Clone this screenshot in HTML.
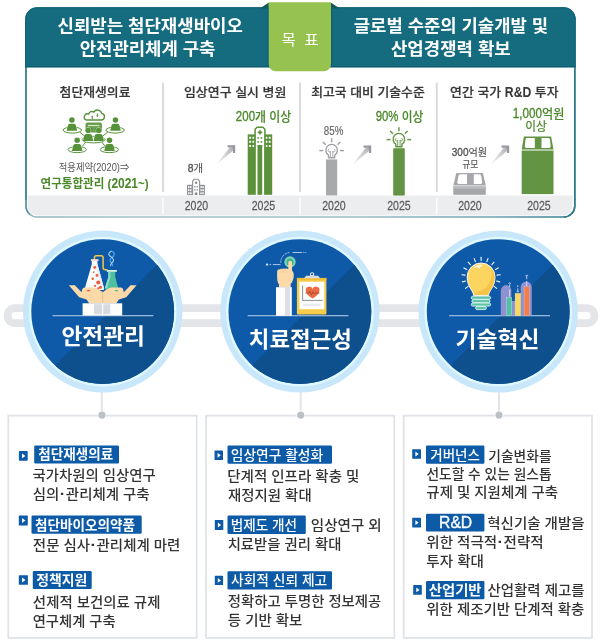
<!DOCTYPE html>
<html lang="ko"><head><meta charset="utf-8"><title>첨단재생의료 목표</title>
<style>html,body{margin:0;padding:0;background:#fff}body{width:600px;height:642px;overflow:hidden}svg{display:block}text{font-family:'Liberation Sans','Noto Sans CJK KR',sans-serif;white-space:pre}</style>
</head><body>
<svg width="600" height="642" viewBox="0 0 600 642" role="img" aria-label="첨단재생의료 목표 및 추진전략">
<defs>
<linearGradient id="arr" gradientUnits="userSpaceOnUse" x1="0" y1="20" x2="18" y2="2"><stop offset="0" stop-color="#d0d0d4" stop-opacity="0"/><stop offset="0.35" stop-color="#cfcfd3" stop-opacity="0.6"/><stop offset="1" stop-color="#adaeb3"/></linearGradient>
<clipPath id="boxclip"><rect x="25.3" y="7.3" width="550.2" height="210.2" rx="11.5" ry="11.5"/></clipPath>
<clipPath id="c0"><ellipse cx="102.7" cy="311.6" rx="71.4" ry="72.4"/></clipPath>
<clipPath id="c1"><ellipse cx="299.9" cy="311.6" rx="71.4" ry="72.4"/></clipPath>
<clipPath id="c2"><ellipse cx="498.2" cy="311.6" rx="71.4" ry="72.4"/></clipPath>
<linearGradient id="bb" gradientUnits="userSpaceOnUse" x1="26" y1="0" x2="575" y2="0"><stop offset="0" stop-color="#8fb4bf"/><stop offset="0.2" stop-color="#a3c1cb"/><stop offset="0.6" stop-color="#9bbcc6"/><stop offset="0.85" stop-color="#6ea2b0"/><stop offset="1" stop-color="#2f7a8c"/></linearGradient>
</defs>
<g id="goal">
<rect x="26" y="8" width="548.8" height="209" rx="11" ry="11" fill="#fff" stroke="url(#bb)" stroke-width="1.5"/>
<path d="M26 200 V19 a11 11 0 0 1 11 -11 H563.8 a11 11 0 0 1 11 11 V200" fill="none" stroke="#2f7a8c" stroke-width="1.5"/>
<path d="M26 199 V206 a11 11 0 0 0 4 8.6" fill="none" stroke="#4f8e9e" stroke-width="1.3"/>
<path d="M574.8 199 V206 a11 11 0 0 1 -11 11" fill="none" stroke="#2f7a8c" stroke-width="1.5"/>
<path d="M25.6 66.9 V19 a11.2 11.2 0 0 1 11.2 -11.2 H564 a11.2 11.2 0 0 1 11.2 11.2 V66.9 Z" fill="#156c7f" stroke="#0f6176" stroke-width="0.9"/>
<rect x="25.2" y="66" width="550.4" height="1.3" fill="#0d5d72"/>
<path d="M27.6 195.4 H572.6 V206 a9.3 9.3 0 0 1 -9.3 9.4 H36.9 a9.3 9.3 0 0 1 -9.3 -9.4 Z" fill="#ecedef"/>
<rect x="162.1" y="82.6" width="1.8" height="109.4" fill="#d8d8db"/>
<rect x="162.2" y="197.8" width="1.5" height="16.6" fill="#fdfdfd"/>
<rect x="299.1" y="82.6" width="1.8" height="109.4" fill="#d8d8db"/>
<rect x="299.2" y="197.8" width="1.5" height="16.6" fill="#fdfdfd"/>
<rect x="435.9" y="82.6" width="1.8" height="109.4" fill="#d8d8db"/>
<rect x="436.0" y="197.8" width="1.5" height="16.6" fill="#fdfdfd"/>
<path d="M261.3 7.6 L268.9 2.4 L268.9 8.6 L261.3 8.6 Z" fill="#15585c"/>
<path d="M338.4 7.6 L330.8 2.4 L330.8 8.6 L338.4 8.6 Z" fill="#15585c"/>
<rect x="267.4" y="8.4" width="1.6" height="58.4" fill="#0f5f74"/>
<rect x="330.7" y="8.4" width="1.6" height="58.4" fill="#0f5f74"/>
<path d="M268.7 2.3 H331 V64.3 a7 7 0 0 1 -7 7 H275.7 a7 7 0 0 1 -7 -7 Z" fill="#96c24f"/>
<text transform="translate(281.52 44.95) scale(1.0252 1)" font-size="15.2" font-weight="400" fill="#fff">목</text>
<text transform="translate(304.22 45.19) scale(1.0270 1)" font-size="15.2" font-weight="400" fill="#fff">표</text>
<text transform="translate(57.49 32.26) scale(1.0252 1)" font-size="17.4" font-weight="700" fill="#fff">신뢰받는 첨단재생바이오</text>
<text transform="translate(79.70 54.96) scale(1.0223 1)" font-size="17.4" font-weight="700" fill="#fff">안전관리체계 구축</text>
<text transform="translate(353.79 32.21) scale(1.0197 1)" font-size="17.4" font-weight="700" fill="#fff">글로벌 수준의 기술개발 및</text>
<text transform="translate(390.97 54.96) scale(1.0249 1)" font-size="17.4" font-weight="700" fill="#fff">산업경쟁력 확보</text>
<text transform="translate(59.62 97.48) scale(1.0284 1)" font-size="12.5" font-weight="500" fill="#383838" stroke="#383838" stroke-width="0.22">첨단재생의료</text>
<text transform="translate(183.96 97.48) scale(1.0357 1)" font-size="12.5" font-weight="500" fill="#383838" stroke="#383838" stroke-width="0.22">임상연구 실시 병원</text>
<text transform="translate(311.16 97.48) scale(1.0288 1)" font-size="12.5" font-weight="500" fill="#383838" stroke="#383838" stroke-width="0.22">최고국 대비 기술수준</text>
<g>
<text transform="translate(450.12 97.48) scale(1.0341 1)" font-size="12.50" font-weight="500" fill="#383838" stroke="#383838" stroke-width="0.22">연간 국가 </text>
<text transform="translate(504.87 97.48) scale(0.8686 1)" font-size="14.00" font-weight="700" fill="#383838" stroke="#383838" stroke-width="0.05">R&amp;D</text>
<text transform="translate(531.22 97.48) scale(1.0341 1)" font-size="12.50" font-weight="500" fill="#383838" stroke="#383838" stroke-width="0.22"> 투자</text>
</g>
<g>
<text transform="translate(58.69 170.75) scale(0.9350 1)" font-size="10.00" font-weight="400" fill="#555">적용제약(</text>
<text transform="translate(96.21 170.75) scale(0.8415 1)" font-size="11.00" font-weight="400" fill="#555">2020</text>
<text transform="translate(116.80 170.75) scale(0.9350 1)" font-size="10.00" font-weight="400" fill="#555">)⇒</text>
</g>
<g>
<text transform="translate(40.62 188.23) scale(0.9544 1)" font-size="12.10" font-weight="700" fill="#4a8829">연구통합관리 (</text>
<text transform="translate(111.42 188.23) scale(0.8589 1)" font-size="13.91" font-weight="700" fill="#4a8829">2021</text>
<text transform="translate(138.01 188.23) scale(0.9544 1)" font-size="12.10" font-weight="700" fill="#4a8829">~)</text>
</g>
<text transform="translate(184.67 209.58) scale(0.8143 1)" font-size="13" font-weight="400" fill="#5c5c5c" stroke="#5c5c5c" stroke-width="0.25">2020</text>
<text transform="translate(251.67 209.58) scale(0.8143 1)" font-size="13" font-weight="400" fill="#5c5c5c" stroke="#5c5c5c" stroke-width="0.25">2025</text>
<text transform="translate(322.17 209.58) scale(0.8143 1)" font-size="13" font-weight="400" fill="#5c5c5c" stroke="#5c5c5c" stroke-width="0.25">2020</text>
<text transform="translate(387.17 209.58) scale(0.8143 1)" font-size="13" font-weight="400" fill="#5c5c5c" stroke="#5c5c5c" stroke-width="0.25">2025</text>
<text transform="translate(458.17 209.58) scale(0.8143 1)" font-size="13" font-weight="400" fill="#5c5c5c" stroke="#5c5c5c" stroke-width="0.25">2020</text>
<text transform="translate(527.17 209.58) scale(0.8143 1)" font-size="13" font-weight="400" fill="#5c5c5c" stroke="#5c5c5c" stroke-width="0.25">2025</text>
<g>
<text transform="translate(235.82 120.92) scale(0.8165 1)" font-size="14.11" font-weight="500" fill="#4a8829" stroke="#4a8829" stroke-width="0.32">200</text>
<text transform="translate(255.05 120.92) scale(0.9495 1)" font-size="12.60" font-weight="500" fill="#4a8829" stroke="#4a8829" stroke-width="0.12">개 이상</text>
</g>
<g>
<text transform="translate(187.73 172.40) scale(0.9040 1)" font-size="11.44" font-weight="400" fill="#555" stroke="#555" stroke-width="0.35">8</text>
<text transform="translate(193.49 172.40) scale(1.0044 1)" font-size="10.40" font-weight="400" fill="#555" stroke="#555" stroke-width="0.15">개</text>
</g>
<g>
<text transform="translate(375.69 120.92) scale(0.8047 1)" font-size="14.11" font-weight="500" fill="#4a8829" stroke="#4a8829" stroke-width="0.32">90%</text>
<text transform="translate(398.42 120.92) scale(0.9357 1)" font-size="12.60" font-weight="500" fill="#4a8829" stroke="#4a8829" stroke-width="0.12"> 이상</text>
</g>
<text transform="translate(323.86 134.64) scale(0.8116 1)" font-size="12" font-weight="400" fill="#6a6a6a" stroke="#6a6a6a" stroke-width="0.2">85%</text>
<rect x="326" y="159.4" width="11.2" height="36" fill="#a8a9ab"/>
<rect x="393.7" y="148.7" width="10.6" height="46.4" fill="#629443" stroke="#4f8a2e" stroke-width="0.6"/>
<g>
<text transform="translate(512.72 118.32) scale(0.8308 1)" font-size="14.11" font-weight="500" fill="#4a8829" stroke="#4a8829" stroke-width="0.32">1,000</text>
<text transform="translate(542.06 118.32) scale(0.9660 1)" font-size="12.60" font-weight="500" fill="#4a8829" stroke="#4a8829" stroke-width="0.12">억원</text>
</g>
<text transform="translate(525.30 131.35) scale(0.9471 1)" font-size="12.4" font-weight="400" fill="#4a8829" stroke="#4a8829" stroke-width="0.2">이상</text>
<g>
<text transform="translate(451.80 156.20) scale(0.8752 1)" font-size="11.44" font-weight="400" fill="#555" stroke="#555" stroke-width="0.35">300</text>
<text transform="translate(468.50 156.20) scale(0.9724 1)" font-size="10.40" font-weight="400" fill="#555" stroke="#555" stroke-width="0.15">억원</text>
</g>
<text transform="translate(462.16 168.09) scale(0.8510 1)" font-size="10.4" font-weight="400" fill="#555" stroke="#555" stroke-width="0.15">규모</text>
<g id="ic-network" fill="#56923a" stroke="none">
<path d="M86.2 120 H101.2 a3.3 3.3 0 0 0 0.5 -6.55 a4.3 4.3 0 0 0 -7.9 -1.3 a3.1 3.1 0 0 0 -5 2.0 a3.0 3.0 0 0 0 -2.6 5.85 Z" fill="#fff" stroke="#56923a" stroke-width="1.35" stroke-linejoin="round"/>
<path d="M92.3 119.6 v-3 M97.4 113.4 v2.6" fill="none" stroke="#56923a" stroke-width="0.9"/>
<path d="M90.9 117.2 l1.4 -1.7 l1.4 1.7 Z M96 115.4 l1.4 1.7 l1.4 -1.7 Z" fill="#56923a"/>
<rect x="86" y="123" width="15.4" height="9" rx="1.2" fill="#6fa253" stroke="#56923a" stroke-width="0.9"/>
<rect x="88" y="125" width="11.4" height="1.1" fill="#d7e6cd"/>
<rect x="90.6" y="128.2" width="2.2" height="1.8" fill="#56923a"/><rect x="94.4" y="128.2" width="2.2" height="1.8" fill="#56923a"/>
<path d="M79.5 132 L85 136.4 M107.8 132 L102.4 136.4 M86 141.5 L82.3 146.3 M101.5 141.5 L105 146.3" stroke="#56923a" stroke-width="1" fill="none"/>
<ellipse cx="72.3" cy="130.1" rx="9.2" ry="3.0" fill="#fff" stroke="#56923a" stroke-width="1.0"/>
<ellipse cx="115.1" cy="130.1" rx="9.2" ry="3.0" fill="#fff" stroke="#56923a" stroke-width="1.0"/>
<ellipse cx="77.2" cy="149.6" rx="9.2" ry="3.0" fill="#fff" stroke="#56923a" stroke-width="1.0"/>
<ellipse cx="109.4" cy="149.6" rx="9.2" ry="3.0" fill="#fff" stroke="#56923a" stroke-width="1.0"/>
<ellipse cx="93.6" cy="139.6" rx="11.4" ry="3.3" fill="#fff" stroke="#56923a" stroke-width="1.0"/>
<circle cx="71.9" cy="120" r="2.75" stroke="#fff" stroke-width="0.7" paint-order="stroke"/>
<path d="M70.00 123.70 h3.80 c1.50 0 2.10 1.30 2.40 3.00 l1.00 4.10 h-10.60 l1.00 -4.10 c0.30 -1.70 0.90 -3.00 2.40 -3.00 Z" stroke="#fff" stroke-width="0.6" paint-order="stroke"/>
<circle cx="115.5" cy="120" r="2.75" stroke="#fff" stroke-width="0.7" paint-order="stroke"/>
<path d="M113.60 123.70 h3.80 c1.50 0 2.10 1.30 2.40 3.00 l1.00 4.10 h-10.60 l1.00 -4.10 c0.30 -1.70 0.90 -3.00 2.40 -3.00 Z" stroke="#fff" stroke-width="0.6" paint-order="stroke"/>
<circle cx="77.2" cy="140.2" r="2.75" stroke="#fff" stroke-width="0.7" paint-order="stroke"/>
<path d="M75.30 143.90 h3.80 c1.50 0 2.10 1.30 2.40 3.00 l1.00 4.10 h-10.60 l1.00 -4.10 c0.30 -1.70 0.90 -3.00 2.40 -3.00 Z" stroke="#fff" stroke-width="0.6" paint-order="stroke"/>
<circle cx="109.5" cy="140.2" r="2.75" stroke="#fff" stroke-width="0.7" paint-order="stroke"/>
<path d="M107.60 143.90 h3.80 c1.50 0 2.10 1.30 2.40 3.00 l1.00 4.10 h-10.60 l1.00 -4.10 c0.30 -1.70 0.90 -3.00 2.40 -3.00 Z" stroke="#fff" stroke-width="0.6" paint-order="stroke"/>
<circle cx="88.1" cy="130.4" r="2.69" stroke="#fff" stroke-width="0.7" paint-order="stroke"/>
<path d="M86.24 134.03 h3.72 c1.47 0 2.06 1.27 2.35 2.94 l0.98 4.02 h-10.39 l0.98 -4.02 c0.29 -1.67 0.88 -2.94 2.35 -2.94 Z" stroke="#fff" stroke-width="0.6" paint-order="stroke"/>
<circle cx="98.7" cy="130.4" r="2.69" stroke="#fff" stroke-width="0.7" paint-order="stroke"/>
<path d="M96.84 134.03 h3.72 c1.47 0 2.06 1.27 2.35 2.94 l0.98 4.02 h-10.39 l0.98 -4.02 c0.29 -1.67 0.88 -2.94 2.35 -2.94 Z" stroke="#fff" stroke-width="0.6" paint-order="stroke"/>
</g>
<g id="ic-bldg-small">
<rect x="187" y="184.8" width="5.6" height="10.3" fill="#909196"/>
<rect x="199.4" y="184.8" width="5.5" height="10.3" fill="#909196"/>
<rect x="188.00" y="186.20" width="1.45" height="1.85" fill="#fff"/>
<rect x="190.05" y="186.20" width="1.45" height="1.85" fill="#fff"/>
<rect x="188.00" y="189.25" width="1.45" height="1.85" fill="#fff"/>
<rect x="190.05" y="189.25" width="1.45" height="1.85" fill="#fff"/>
<rect x="188.00" y="192.30" width="1.45" height="1.85" fill="#fff"/>
<rect x="190.05" y="192.30" width="1.45" height="1.85" fill="#fff"/>
<rect x="200.30" y="186.20" width="1.45" height="1.85" fill="#fff"/>
<rect x="202.35" y="186.20" width="1.45" height="1.85" fill="#fff"/>
<rect x="200.30" y="189.25" width="1.45" height="1.85" fill="#fff"/>
<rect x="202.35" y="189.25" width="1.45" height="1.85" fill="#fff"/>
<rect x="200.30" y="192.30" width="1.45" height="1.85" fill="#fff"/>
<rect x="202.35" y="192.30" width="1.45" height="1.85" fill="#fff"/>
<path d="M192.6 195.1 V181.3 l1.6 -2 h3.8 l1.6 2 V195.1" fill="#fff" stroke="#909196" stroke-width="1.1"/>
<circle cx="196.1" cy="182.7" r="1.25" fill="#909196"/>
<rect x="194.3" y="186.00" width="1.3" height="1.5" fill="#909196"/><rect x="196.6" y="186.00" width="1.3" height="1.5" fill="#909196"/>
<rect x="194.3" y="189.10" width="1.3" height="1.5" fill="#909196"/><rect x="196.6" y="189.10" width="1.3" height="1.5" fill="#909196"/>
<path d="M194.7 195.1 v-1.4 a1.4 1.4 0 0 1 2.8 0 v1.4 Z" fill="#909196"/>
</g>
<g id="ic-bldg-big">
<rect x="247.7" y="134.4" width="8.2" height="60.4" fill="#5a9139"/>
<rect x="249.20" y="136.70" width="1.9" height="2.0" rx="0.3" fill="#fff"/>
<rect x="252.45" y="136.70" width="1.9" height="2.0" rx="0.3" fill="#fff"/>
<rect x="249.20" y="140.80" width="1.9" height="2.0" rx="0.3" fill="#fff"/>
<rect x="252.45" y="140.80" width="1.9" height="2.0" rx="0.3" fill="#fff"/>
<rect x="249.20" y="144.90" width="1.9" height="2.0" rx="0.3" fill="#fff"/>
<rect x="252.45" y="144.90" width="1.9" height="2.0" rx="0.3" fill="#fff"/>
<rect x="264.0" y="134.4" width="8.2" height="60.4" fill="#5a9139"/>
<rect x="265.50" y="136.70" width="1.9" height="2.0" rx="0.3" fill="#fff"/>
<rect x="268.75" y="136.70" width="1.9" height="2.0" rx="0.3" fill="#fff"/>
<rect x="265.50" y="140.80" width="1.9" height="2.0" rx="0.3" fill="#fff"/>
<rect x="268.75" y="140.80" width="1.9" height="2.0" rx="0.3" fill="#fff"/>
<rect x="265.50" y="144.90" width="1.9" height="2.0" rx="0.3" fill="#fff"/>
<rect x="268.75" y="144.90" width="1.9" height="2.0" rx="0.3" fill="#fff"/>
<path d="M255.1 146.5 V129.2 l2 -2 h5.8 l2 2 V146.5 Z" fill="#fff" stroke="#5a9139" stroke-width="1.5" stroke-linejoin="miter"/>
<rect x="255.9" y="145.6" width="8.2" height="49.2" fill="#fff"/>
<path d="M260 129.9 l0.9 1.5 l1.5 0.9 l-1.5 0.9 l-0.9 1.5 l-0.9 -1.5 l-1.5 -0.9 l1.5 -0.9 Z" fill="#5a9139" stroke="#5a9139" stroke-width="0.5"/>
<rect x="257.30" y="136.90" width="1.6" height="1.9" rx="0.6" fill="#5a9139"/>
<rect x="260.60" y="136.90" width="1.6" height="1.9" rx="0.6" fill="#5a9139"/>
<rect x="257.30" y="140.90" width="1.6" height="1.9" rx="0.6" fill="#5a9139"/>
<rect x="260.60" y="140.90" width="1.6" height="1.9" rx="0.6" fill="#5a9139"/>
<rect x="257.5" y="145" width="4.7" height="49.8" fill="#5a9139"/>
</g>
<g fill="none" stroke="#a0a1a4" stroke-width="1.4" stroke-linecap="butt">
<path d="M328.50 157.80 v-2.7 a5.8 5.8 0 1 1 6.2 0 v2.7 Z" fill="#fff" stroke-linejoin="round"/>
<path d="M330.40 157.60 v-6.6 M332.80 157.60 v-6.6" stroke-width="0.9"/>
<path d="M330.40 151.20 a1.3 1.3 0 1 1 -1.3 -1.9 M332.80 151.20 a1.3 1.3 0 1 0 1.3 -1.9" stroke-width="0.9"/>
<path d="M340.00 150.60 L343.90 150.60" stroke-width="1.45"/>
<path d="M337.54 144.66 L340.30 141.90" stroke-width="1.45"/>
<path d="M331.60 142.20 L331.60 138.30" stroke-width="1.45"/>
<path d="M325.66 144.66 L322.90 141.90" stroke-width="1.45"/>
<path d="M323.20 150.60 L319.30 150.60" stroke-width="1.45"/>
</g>
<g fill="none" stroke="#629443" stroke-width="1.4" stroke-linecap="butt">
<path d="M395.80 146.80 v-2.7 a5.8 5.8 0 1 1 6.2 0 v2.7 Z" fill="#fff" stroke-linejoin="round"/>
<path d="M397.70 146.60 v-6.6 M400.10 146.60 v-6.6" stroke-width="0.9"/>
<path d="M397.70 140.20 a1.3 1.3 0 1 1 -1.3 -1.9 M400.10 140.20 a1.3 1.3 0 1 0 1.3 -1.9" stroke-width="0.9"/>
<path d="M407.30 139.60 L411.20 139.60" stroke-width="1.45"/>
<path d="M404.84 133.66 L407.60 130.90" stroke-width="1.45"/>
<path d="M398.90 131.20 L398.90 127.30" stroke-width="1.45"/>
<path d="M392.96 133.66 L390.20 130.90" stroke-width="1.45"/>
<path d="M390.50 139.60 L386.60 139.60" stroke-width="1.45"/>
</g>
<g id="ic-atm-gray">
<path d="M456.3 172.9 H482.9 L485.8 185.4 H453.3 Z" fill="#a6a7aa"/>
<path d="M459.3 174.3 H467 V184.1 H458.3 L457.3 182.6 L458.4 176.2 Z" fill="#fff"/>
<path d="M473.8 174.3 H480.2 L481.2 176.2 L482.2 182.6 L481.2 184.1 H473.8 Z" fill="#fff"/>
<rect x="453.3" y="186.4" width="32.5" height="8.4" fill="#a6a7aa"/>
<rect x="453.3" y="186.4" width="32.5" height="2.4" fill="#b9babd"/>
</g>
<g id="ic-atm-green">
<path d="M523.9 136.5 H551.1 L553.5 149.5 H521.7 Z" fill="#629443"/>
<path d="M526.4 137.9 H534.8 V148 H525.8 L524.8 146.5 L525.5 139.6 Z" fill="#fff"/>
<path d="M541.5 137.9 H549.1 L550 139.6 L550.7 146.5 L549.7 148 H541.5 Z" fill="#fff"/>
<rect x="521.7" y="150.5" width="31.8" height="43.6" fill="#629443"/>
</g>
<g transform="translate(215.20 145.30)"><path d="M-0.6 21 L14.6 2.2 L17.8 2.2 L17.8 5.4 Z" fill="url(#arr)"/><path d="M12.2 0 H20 V7.6 H17.8 V3.2 L17 2.2 H12.6 Z" fill="#97989d"/></g>
<g transform="translate(351.20 145.50)"><path d="M-0.6 21 L14.6 2.2 L17.8 2.2 L17.8 5.4 Z" fill="url(#arr)"/><path d="M12.2 0 H20 V7.6 H17.8 V3.2 L17 2.2 H12.6 Z" fill="#97989d"/></g>
<g transform="translate(489.20 145.50)"><path d="M-0.6 21 L14.6 2.2 L17.8 2.2 L17.8 5.4 Z" fill="url(#arr)"/><path d="M12.2 0 H20 V7.6 H17.8 V3.2 L17 2.2 H12.6 Z" fill="#97989d"/></g>
</g>
<g id="pipe">
<rect x="7.6" y="308.2" width="586.8" height="14.9" rx="7.45" ry="7.45" fill="#fff" stroke="#e3e5e9" stroke-width="7.8"/>
</g>
<g id="circ0">
<rect x="100.85" y="390" width="1.9" height="24" fill="#e0e3e7"/>
<ellipse cx="102.7" cy="311.6" rx="79.7" ry="81" fill="#c8e7fb"/>
<ellipse cx="102.7" cy="311.6" rx="73.8" ry="74.9" fill="#e0f9ff"/>
<ellipse cx="102.7" cy="311.6" rx="71.4" ry="72.4" fill="#0e5aa9"/>
<g clip-path="url(#c0)"><path d="M207.3 215.1 L5.1 414.9 L252.7 461.6 Z" fill="#0e4f8d"/></g>
<rect x="52.5" y="315.05" width="100.8" height="1.25" fill="#9db9dd"/>
<g id="ic-lab">
<path d="M111.4 251.2 c2.4 0.4 3.6 2.6 2.2 4.6 c-1.3 1.8 -4.2 2.6 -3.4 5.2 c0.6 1.8 2.8 2.2 2.2 4.6" fill="none" stroke="#4fa0e6" stroke-width="1.3" stroke-linecap="round"/>
<path d="M111 251.4 c-2.6 1 -2.8 3.4 -1 4.6 c1.8 1.2 4.4 2.4 3.2 5.2 c-0.8 1.6 -2.6 2 -2.6 4.4" fill="none" stroke="#a9d6f9" stroke-width="1.1" stroke-linecap="round"/>
<path d="M94.4 259.6 V257.6 a1.9 1.9 0 0 1 1.9 -1.9 H101.2 a1.9 1.9 0 0 1 1.9 1.9 V267.4 a2.3 2.3 0 0 0 2.3 2.3 H107.6" fill="none" stroke="#f7c744" stroke-width="1.5"/>
<path d="M91 259.3 h7.3 v1.6 h-0.8 v3.4 l6.6 24.2 a1.2 1.2 0 0 1 -1.2 1.4 H86 a1.2 1.2 0 0 1 -1.2 -1.4 l7 -24.2 v-3.4 h-0.8 Z" fill="#fdfdfd"/>
<path d="M91 259.3 h7.3 v1.5 h-7.3 Z" fill="#f8c9c0"/>
<path d="M97.5 264.3 l6.6 24.2 a1.2 1.2 0 0 1 -1.2 1.4 h-2.2 l-4.6 -25.6 Z" fill="#e9ecf2"/>
<circle cx="94.7" cy="267.5" r="1.45" fill="#ea5b3c"/>
<circle cx="93.8" cy="272.1" r="0.85" fill="#ea5b3c"/>
<circle cx="97" cy="275.4" r="1.45" fill="#ea5b3c"/>
<circle cx="92.8" cy="278.8" r="1.2" fill="#ea5b3c"/>
<circle cx="98.2" cy="282.5" r="2.0" fill="#ea5b3c"/>
<circle cx="95.1" cy="285.8" r="1.1" fill="#ea5b3c"/>
<circle cx="100.4" cy="287.3" r="1.5" fill="#ea5b3c"/>
<circle cx="98.3" cy="288.5" r="1.2" fill="#ea5b3c"/>
<path d="M106.8 270 h10 v1.7 h-1.5 v5.6 l2.9 10.6 a1.3 1.3 0 0 1 -1.2 1.7 H106 a1.3 1.3 0 0 1 -1.2 -1.7 l3.5 -10.6 v-5.6 h-1.5 Z" fill="#4fbf9f"/>
<path d="M106.8 270 h10 v1.7 h-10 Z" fill="#d9f3ec"/>
<path d="M108.3 277.3 v-5.6 h2 v5.6 l-3 10.6 h-2.4 Z" fill="#8fdcc6"/>
<path d="M68.8 285.2 L74.8 285.2 L81.6 292.3 L82.3 289.2 Q82.7 287.5 84.5 287.5 L94.3 287.5 Q98 288.3 102.7 292.2 V303.4 H89.2 L86.6 299.6 L79.2 297.2 Z" fill="#fbd9a9"/>
<g transform="translate(205.4 0) scale(-1 1)"><path d="M68.8 285.2 L74.8 285.2 L81.6 292.3 L82.3 289.2 Q82.7 287.5 84.5 287.5 L94.3 287.5 Q98 288.3 102.7 292.2 V303.4 H89.2 L86.6 299.6 L79.2 297.2 Z" fill="#fbd9a9"/></g>
<rect x="102.3" y="291.5" width="0.8" height="12" fill="#f3c48c"/>
<rect x="86.7" y="289.9" width="3.6" height="1.3" rx="0.6" fill="#ea5b3c"/>
<rect x="114.6" y="289.9" width="3.6" height="1.3" rx="0.6" fill="#4fbf9f"/>
<rect x="82.6" y="303.3" width="39.6" height="12.2" fill="#fdfdfe"/>
<rect x="94" y="304.2" width="16.2" height="10" fill="#d7dae1"/>
<rect x="102" y="303.3" width="1.2" height="12.2" fill="#fdfdfe"/>
</g>
<text transform="translate(61.48 344.36) scale(1.0705 1)" font-size="21.2" font-weight="700" fill="#fff">안전관리</text>
</g>
<g id="circ1">
<rect x="299.75" y="390" width="1.9" height="24" fill="#e0e3e7"/>
<ellipse cx="299.9" cy="311.6" rx="79.7" ry="81" fill="#c8e7fb"/>
<ellipse cx="299.9" cy="311.6" rx="73.8" ry="74.9" fill="#e0f9ff"/>
<ellipse cx="299.9" cy="311.6" rx="71.4" ry="72.4" fill="#0e5aa9"/>
<g clip-path="url(#c1)"><path d="M404.5 215.1 L202.3 414.9 L449.9 461.6 Z" fill="#0e4f8d"/></g>
<rect x="247.6" y="315.05" width="100.9" height="1.25" fill="#9db9dd"/>
<g id="ic-touch">
<g fill="none" stroke="#b9d4f2" stroke-width="0.9">
<path d="M272.8 264.6 H280.6"/><path d="M269.6 264.6 h1.6"/>
<path d="M280.8 262.6 A9.6 9.6 0 0 1 289.4 252.6" stroke-dasharray="2.2 0.9"/>
<path d="M292.6 252.5 H302.2"/><path d="M303.3 252.5 h1.1 M305.3 252.5 h1"/>
</g>
<circle cx="267.1" cy="264.6" r="1.1" fill="#e9f2fd"/>
<circle cx="290" cy="262" r="5.7" fill="#7fd1b3"/>
<circle cx="290" cy="262" r="3.5" fill="#3cb391"/>
<path d="M288.3 262.6 a1.85 1.85 0 0 1 3.7 0 V270.5 c1.6 1.4 2 4 1.7 6.4 c-0.3 2.6 -1.6 5.6 -3 7.2 V287.4 H279 V284.6 c-1.2 -1.8 -1.9 -4.4 -1.9 -7.4 V272 a2.3 2.3 0 0 1 2.6 -2.6 c0.6 -0.6 1.7 -0.7 2.4 -0.3 c0.7 -0.6 1.8 -0.7 2.6 -0.2 c0.8 -0.5 2.7 -0.6 3.6 0.2 Z" fill="#fbd9a9"/>
<path d="M280.6 269.6 v3.2 M283.2 269.2 v3.6 M285.8 269.2 v3.6" stroke="#f3c58e" stroke-width="0.6" fill="none"/>
<rect x="276" y="287.2" width="15.8" height="28.6" fill="#fdfdfe"/>
<rect x="285" y="287.2" width="5" height="28.6" fill="#dcdfe6"/>
<rect x="296.9" y="277.9" width="29.5" height="36.5" rx="0.8" fill="#f8cb4b"/>
<rect x="296.9" y="277.9" width="29.5" height="2.2" fill="#f2bd38"/>
<rect x="299.4" y="281.7" width="24.9" height="27.5" fill="#fefefe"/>
<circle cx="312.1" cy="274.5" r="1.7" fill="none" stroke="#e4e6ea" stroke-width="1.1"/>
<path d="M304.1 278.2 l2 -2.5 h4.3 l1.7 -1 l1.7 1 h4.3 l2 2.5 Z" fill="#d9dce2"/>
<path d="M302.6 285.4 V300.4 H322.8" fill="none" stroke="#5a5f6b" stroke-width="0.7"/>
<path d="M312.6 298.5 c-3.8 -2.4 -6.8 -4.8 -6.8 -7.8 a3.3 3.3 0 0 1 6.8 -1.2 a3.3 3.3 0 0 1 6.8 1.2 c0 3 -3 5.4 -6.8 7.8 Z" fill="#ee6a45"/>
<path d="M305.4 293 h3.4 l1 -2 l1.6 4 l1.4 -3.4 l1.2 2.4 l1 -1 h4.6" fill="none" stroke="#8b3a2a" stroke-width="0.6"/>
<rect x="303" y="303.6" width="17.4" height="2.6" fill="#e8ebf0"/>
</g>
<text transform="translate(248.79 346.90) scale(1.0577 1)" font-size="21.2" font-weight="700" fill="#fff">치료접근성</text>
</g>
<g id="circ2">
<rect x="497.95" y="390" width="1.9" height="24" fill="#e0e3e7"/>
<ellipse cx="498.2" cy="311.6" rx="79.7" ry="81" fill="#c8e7fb"/>
<ellipse cx="498.2" cy="311.6" rx="73.8" ry="74.9" fill="#e0f9ff"/>
<ellipse cx="498.2" cy="311.6" rx="71.4" ry="72.4" fill="#0e5aa9"/>
<g clip-path="url(#c2)"><path d="M602.8 215.1 L400.6 414.9 L648.2 461.6 Z" fill="#0e4f8d"/></g>
<rect x="449.1" y="315.05" width="100.9" height="1.25" fill="#9db9dd"/>
<g id="ic-idea">
<g stroke="#f3f8ff" stroke-width="1.1" stroke-linecap="round" fill="none">
<path d="M494.09 286.38 L496.72 288.32"/>
<path d="M496.61 281.02 L499.75 281.87"/>
<path d="M497.07 275.10 L500.30 274.75"/>
<path d="M495.41 269.40 L498.30 267.90"/>
<path d="M491.84 264.69 L494.02 262.23"/>
<path d="M486.85 261.58 L488.02 258.50"/>
<path d="M481.10 260.50 L481.10 257.20"/>
<path d="M475.35 261.58 L474.18 258.50"/>
<path d="M470.36 264.69 L468.18 262.23"/>
<path d="M466.79 269.40 L463.90 267.90"/>
<path d="M465.13 275.10 L461.90 274.75"/>
<path d="M465.59 281.02 L462.45 281.87"/>
<path d="M468.11 286.38 L465.48 288.32"/>
</g>
<path d="M473.6 295.4 c0 -4.6 -6.4 -8.2 -6.4 -18.4 a13.9 14 0 0 1 27.8 0 c0 10.2 -6.4 13.8 -6.4 18.4 Z" fill="#fbd560" stroke="#fffdf2" stroke-width="1"/>
<path d="M488.6 295 c0 -4.6 6 -8 6 -18 a13 13 0 0 0 -3.2 -8.8 c1.4 9.6 -2.6 19.8 -10.8 22.8 c-3 1.2 -5.6 1.6 -6.6 4 Z" fill="#f5c244" opacity="0.85"/>
<path d="M471.6 269.6 c2.6 -4.2 7.4 -5.6 12 -4.6 c-2.2 0.6 -3.4 2.2 -4.2 3.8 c-2.2 -2.4 -5.6 -1.6 -7.8 0.8 Z" fill="#fff7dc"/>
<rect x="471.3" y="296.2" width="19.3" height="3.1" rx="1.5" fill="#5cc5a9" stroke="#f4fbfa" stroke-width="0.8"/>
<rect x="471.9" y="299.6" width="18.1" height="3.1" rx="1.5" fill="#5cc5a9" stroke="#f4fbfa" stroke-width="0.8"/>
<rect x="471.3" y="303.0" width="19.3" height="3.1" rx="1.5" fill="#5cc5a9" stroke="#f4fbfa" stroke-width="0.8"/>
<rect x="475.6" y="306.5" width="10.8" height="3.1" rx="1.5" fill="#5cc5a9" stroke="#f4fbfa" stroke-width="0.8"/>
<path d="M500.8 315.6 V290.4 a5.25 5.3 0 0 1 10.5 0 V301 h4 V315.6 Z" fill="#8f92d0"/>
<path d="M520.7 315.6 V287.2 a5.55 5.6 0 0 1 11.1 0 V315.6 Z" fill="#8f92d0"/>
<rect x="506.6" y="297.4" width="5.1" height="18.2" fill="#4fc3a1" stroke="#c7e9f0" stroke-width="0.4"/>
<rect x="515.1" y="293.3" width="5.6" height="22.3" fill="#fbd95f" stroke="#f1e3b8" stroke-width="0.4"/>
<rect x="524.1" y="286.8" width="5.1" height="28.8" fill="#f47b4a" stroke="#f6c5b2" stroke-width="0.4"/>
<g fill="none" stroke="#e8f0fb" stroke-width="0.8">
<path d="M509.7 296.6 V289.5 M509.7 287.2 v-2.8 M508.6 283.9 l1.1 -1.3 l1.1 1.3"/>
<path d="M517.8 285.2 v2 M517.8 288.4 v2.6 M516.7 290.9 l1.1 1.3 l1.1 -1.3"/>
<path d="M526.7 285.8 V281 M526.7 279.2 v-3 M525.6 276.2 l1.1 -1.3 l1.1 1.3"/>
</g>
</g>
<text transform="translate(455.47 346.90) scale(1.0763 1)" font-size="21.2" font-weight="700" fill="#fff">기술혁신</text>
</g>
<rect x="8.3" y="415.7" width="188.39999999999998" height="222.2" fill="#fff" stroke="#dfe3e8" stroke-width="1.8"/>
<rect x="206" y="415.7" width="188.3" height="222.2" fill="#fff" stroke="#dfe3e8" stroke-width="1.8"/>
<rect x="403.7" y="415.7" width="188.3" height="222.2" fill="#fff" stroke="#dfe3e8" stroke-width="1.8"/>
<circle cx="102.0" cy="415.1" r="4.3" fill="#fff"/>
<circle cx="102.0" cy="415.1" r="3.6" fill="#bcc1c8"/>
<circle cx="300.7" cy="415.1" r="4.3" fill="#fff"/>
<circle cx="300.7" cy="415.1" r="3.6" fill="#bcc1c8"/>
<circle cx="499.0" cy="415.1" r="4.3" fill="#fff"/>
<circle cx="499.0" cy="415.1" r="3.6" fill="#bcc1c8"/>
<rect x="18.9" y="451.1" width="8.8" height="9.6" rx="0.6" fill="#0d5aa7"/>
<path d="M22.07 453.50 L25.41 455.90 L22.07 458.30 Z" fill="#fff"/>
<rect x="34.2" y="445.5" width="84.8" height="18.0" rx="1.2" fill="#0d5aa7"/>
<text transform="translate(38.32 459.45) scale(1.0205 1)" font-size="13.3" font-weight="700" fill="#fff">첨단재생의료</text>
<text transform="translate(32.55 480.26) scale(1.0676 1)" font-size="13.5" font-weight="500" fill="#333">국가차원의 임상연구</text>
<text transform="translate(32.78 499.46) scale(1.0715 1)" font-size="13.5" font-weight="500" fill="#333">심의<tspan font-weight="700" font-size="1.15em" dx="0.03em">·</tspan><tspan dx="0.03em">관리체계 구축</tspan></text>
<rect x="18.8" y="515.6" width="9" height="9.9" rx="0.6" fill="#0d5aa7"/>
<path d="M22.04 518.08 L25.46 520.55 L22.04 523.02 Z" fill="#fff"/>
<rect x="31.5" y="515.5" width="110.19999999999999" height="18.200000000000045" rx="1.2" fill="#0d5aa7"/>
<text transform="translate(35.02 529.55) scale(1.0238 1)" font-size="13.3" font-weight="700" fill="#fff">첨단바이오의약품</text>
<text transform="translate(32.85 550.20) scale(1.0718 1)" font-size="13.5" font-weight="500" fill="#333">전문 심사<tspan font-weight="700" font-size="1.15em" dx="0.03em">·</tspan><tspan dx="0.03em">관리체계 마련</tspan></text>
<rect x="18.8" y="575.2" width="9.1" height="9.6" rx="0.6" fill="#0d5aa7"/>
<path d="M22.08 577.60 L25.53 580.00 L22.08 582.40 Z" fill="#fff"/>
<rect x="32.8" y="571" width="58.900000000000006" height="18" rx="1.2" fill="#0d5aa7"/>
<text transform="translate(36.24 585.19) scale(1.0455 1)" font-size="13.3" font-weight="700" fill="#fff">정책지원</text>
<text transform="translate(32.85 606.91) scale(1.0709 1)" font-size="13.5" font-weight="500" fill="#333">선제적 보건의료 규제</text>
<text transform="translate(32.64 625.91) scale(1.0610 1)" font-size="13.5" font-weight="500" fill="#333">연구체계 구축</text>
<rect x="214.5" y="450.5" width="8.5" height="9.6" rx="0.6" fill="#0d5aa7"/>
<path d="M217.56 452.90 L220.79 455.30 L217.56 457.70 Z" fill="#fff"/>
<rect x="227.5" y="445.5" width="104.5" height="18.19999999999999" rx="1.2" fill="#0d5aa7"/>
<text transform="translate(230.81 459.55) scale(1.0347 1)" font-size="13.3" font-weight="500" fill="#fff">임상연구 활성화</text>
<text transform="translate(227.27 480.95) scale(1.0737 1)" font-size="13.5" font-weight="500" fill="#333">단계적 인프라 확충 및</text>
<text transform="translate(227.99 499.56) scale(1.0696 1)" font-size="13.5" font-weight="500" fill="#333">재정지원 확대</text>
<rect x="214.8" y="520" width="8.5" height="10" rx="0.6" fill="#0d5aa7"/>
<path d="M217.86 522.50 L221.09 525.00 L217.86 527.50 Z" fill="#fff"/>
<rect x="227.5" y="515.5" width="78.30000000000001" height="18.5" rx="1.2" fill="#0d5aa7"/>
<text transform="translate(230.78 529.75) scale(1.0228 1)" font-size="13.3" font-weight="500" fill="#fff">법제도 개선</text>
<text transform="translate(310.75 530.23) scale(1.0787 1)" font-size="13.5" font-weight="500" fill="#333">임상연구 외</text>
<text transform="translate(227.64 548.81) scale(1.0643 1)" font-size="13.5" font-weight="500" fill="#333">치료받을 권리 확대</text>
<rect x="214.8" y="575.8" width="8.3" height="9.3" rx="0.6" fill="#0d5aa7"/>
<path d="M217.79 578.12 L220.94 580.45 L217.79 582.77 Z" fill="#fff"/>
<rect x="227.5" y="571.2" width="104.5" height="18.299999999999955" rx="1.2" fill="#0d5aa7"/>
<text transform="translate(231.02 585.25) scale(1.0351 1)" font-size="13.3" font-weight="500" fill="#fff">사회적 신뢰 제고</text>
<text transform="translate(227.78 606.18) scale(1.0668 1)" font-size="13.5" font-weight="500" fill="#333">정확하고 투명한 정보제공</text>
<text transform="translate(227.85 624.58) scale(1.0705 1)" font-size="13.5" font-weight="500" fill="#333">등 기반 확보</text>
<rect x="412.2" y="449.2" width="8.8" height="9.6" rx="0.6" fill="#0d5aa7"/>
<path d="M415.37 451.60 L418.71 454.00 L415.37 456.40 Z" fill="#fff"/>
<rect x="426" y="445.5" width="58.39999999999998" height="18.30000000000001" rx="1.2" fill="#0d5aa7"/>
<text transform="translate(430.26 459.65) scale(1.0144 1)" font-size="13.3" font-weight="500" fill="#fff">거버넌스</text>
<text transform="translate(488.24 460.56) scale(1.0206 1)" font-size="13.5" font-weight="500" fill="#333">기술변화를</text>
<text transform="translate(426.38 478.81) scale(1.0183 1)" font-size="13.5" font-weight="500" fill="#333">선도할 수 있는 원스톱</text>
<text transform="translate(426.35 496.94) scale(1.0725 1)" font-size="13.5" font-weight="500" fill="#333">규제 및 지원체계 구축</text>
<rect x="412.2" y="517.8" width="8.8" height="9.7" rx="0.6" fill="#0d5aa7"/>
<path d="M415.37 520.22 L418.71 522.65 L415.37 525.07 Z" fill="#fff"/>
<rect x="426" y="513.8" width="58.39999999999998" height="17.700000000000045" rx="1.2" fill="#0d5aa7"/>
<text transform="translate(439.04 528.13) scale(0.9469 1)" font-size="16.6" font-weight="400" fill="#fff" stroke="#fff" stroke-width="0.35">R&amp;D</text>
<text transform="translate(487.27 528.45) scale(1.0742 1)" font-size="13.5" font-weight="500" fill="#333">혁신기술 개발을</text>
<text transform="translate(426.35 547.31) scale(1.0749 1)" font-size="13.5" font-weight="500" fill="#333">위한 적극적<tspan font-weight="700" font-size="1.15em" dx="0.03em">·</tspan><tspan dx="0.03em">전략적</tspan></text>
<text transform="translate(426.34 565.51) scale(1.0796 1)" font-size="13.5" font-weight="500" fill="#333">투자 확대</text>
<rect x="413.2" y="585" width="8.6" height="9.8" rx="0.6" fill="#0d5aa7"/>
<path d="M416.30 587.45 L419.56 589.90 L416.30 592.35 Z" fill="#fff"/>
<rect x="426" y="581" width="58.39999999999998" height="18.200000000000045" rx="1.2" fill="#0d5aa7"/>
<text transform="translate(428.77 595.09) scale(1.0800 1)" font-size="13.3" font-weight="700" fill="#fff">산업기반</text>
<text transform="translate(487.42 594.70) scale(1.0726 1)" font-size="13.5" font-weight="500" fill="#333">산업활력 제고를</text>
<text transform="translate(426.35 614.31) scale(1.0688 1)" font-size="13.5" font-weight="500" fill="#333">위한 제조기반 단계적 확충</text>
</svg>
</body></html>
